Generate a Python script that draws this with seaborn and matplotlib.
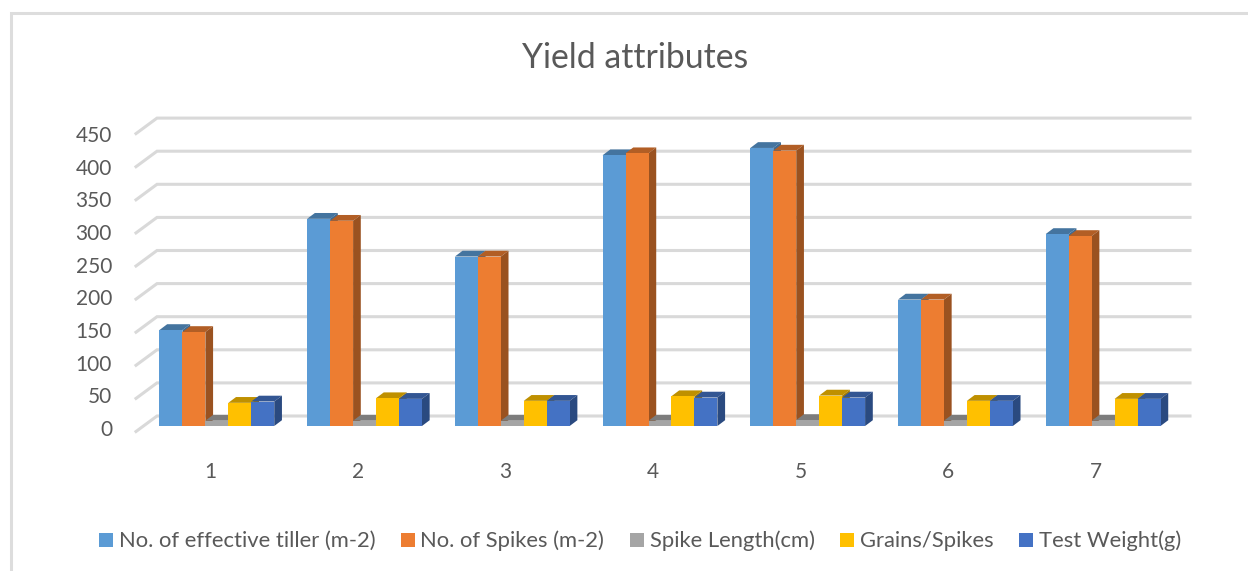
import matplotlib
matplotlib.use("Agg")
import pandas as pd
import seaborn as sns
import matplotlib.pyplot as plt
from matplotlib.lines import Line2D
from matplotlib.patches import Polygon, Rectangle
from matplotlib.transforms import ScaledTranslation

plots = ["1", "2", "3", "4", "5", "6", "7"]
tiller = [145, 313, 256, 409, 420, 191, 290]
spikes = [142, 310, 256, 412, 416, 191, 287]
spike_len = [8, 8, 8, 8, 9, 8, 8]
grains = [35, 42, 38, 45, 46, 38, 41]
test_wt = [37, 41, 38, 43, 43, 38, 41]
y_ticks = [0, 50, 100, 150, 200, 250, 300, 350, 400, 450]
names = ["No. of effective tiller (m-2)", "No. of Spikes (m-2)", "Spike Length(cm)",
         "Grains/Spikes", "Test Weight(g)"]
front_cols = ["#5B9BD5", "#ED7D31", "#A5A5A5", "#FFC000", "#4472C4"]
top_cols = ["#44749F", "#B25E25", "#7C7C7C", "#BF9000", "#335693"]
side_cols = ["#3E6A92", "#9A5220", "#6E6E6E", "#A67C00", "#2A4A80"]

W, H = 1248, 571
plt.rcParams['font.family'] = ['Lato', 'DejaVu Sans']
TXT = "#595959"
GRID = "#D9D9D9"

df = pd.DataFrame({"plot": plots * 5,
                   "value": tiller + spikes + spike_len + grains + test_wt,
                   "attr": [n for n in names for _ in plots]})

fig = plt.figure(figsize=(W / 100, H / 100), dpi=100)

# value labels follow the front edge of the floor, not the bar scale, so they get their own axes
lab_ax = fig.add_axes([143 / W, (H - 440) / H, 1034 / W, 312 / H], facecolor="none")
lab_ax.set_ylim(-12 / 0.653, 300 / 0.653)
lab_ax.set_xticks([])
lab_ax.set_yticks(y_ticks)
lab_ax.set_yticklabels([str(v) for v in y_ticks])
lab_ax.tick_params(axis="y", length=0, pad=22.3, labelsize=15, labelcolor=TXT)
for s in lab_ax.spines.values():
    s.set_visible(False)

# plot area in pixels: x 143..1177, value 0 at y=426, 0.662 px per unit
ax = fig.add_axes([143 / W, (H - 426) / H, 1034 / W, 298 / H])
sns.barplot(data=df, x="plot", y="value", hue="attr", hue_order=names, palette=front_cols,
            saturation=1, width=0.777, errorbar=None, ax=ax, legend=False)
ax.set_xlim(-0.5, 6.5)
ax.set_ylim(0, 298 / 0.662)
ax.set_facecolor("none")
for s in ax.spines.values():
    s.set_visible(False)
ax.set_xlabel("")
ax.set_ylabel("")

px_x = 7 / 1034
px_y = 1 / 0.662
dx, dy = 7.7 * px_x, 5.8 * px_y

### gridlines on the floor/back wall
for v in y_ticks:
    x0, y0 = -0.5 - 7 * px_x, v - 5.5 * px_y
    x1, y1 = x0 + 21 * px_x, v + 10 * px_y
    x2 = x0 + 1054 * px_x
    ax.plot([x0, x1, x2], [y0, y1, y1], color=GRID, lw=2.2, clip_on=False, zorder=1,
            solid_joinstyle="miter")

### fake 3d faces for every bar
for i, cont in enumerate(ax.containers):
    for b in cont:
        l, r, t = b.get_x(), b.get_x() + b.get_width(), b.get_height()
        b.set_zorder(3 + 2 * i)
        ax.add_patch(Polygon([(l, t), (l + dx, t + dy), (r + dx, t + dy), (r, t)],
                             fc=top_cols[i], ec="none", zorder=2 + 2 * i, clip_on=False))
        ax.add_patch(Polygon([(r, 0), (r + dx, dy), (r + dx, t + dy), (r, t)],
                             fc=side_cols[i], ec="none", zorder=2 + 2 * i, clip_on=False))

ax.set_yticks([])
ax.tick_params(axis="x", length=0, pad=26, labelsize=15, labelcolor=TXT)
# category labels sit 7px left of the bar groups
for lab in ax.get_xticklabels():
    lab.set_transform(lab.get_transform() + ScaledTranslation(-7 / 100, 0, fig.dpi_scale_trans))

fig.text(635 / W, 1 - 58 / H, "Yield attributes", ha="center", va="center", fontsize=24.3, color=TXT)

handles = [Rectangle((0, 0), 1, 1, fc=c, ec="none") for c in front_cols]
fig.legend(handles, names, loc="center", bbox_to_anchor=(640 / W, 1 - 541 / H), ncol=5, frameon=False,
           fontsize=15.8, labelcolor=TXT, handlelength=0.64, handleheight=0.6, handletextpad=0.25,
           columnspacing=1.17)

### chart frame, open to the right and bottom
fig.add_artist(Line2D([11 / W, 11 / W, 1], [0, 1 - 13 / H, 1 - 13 / H], transform=fig.transFigure,
                      color="#DDDDDD", lw=2.2, solid_joinstyle="miter"))

fig.savefig("out.png", dpi=100)
